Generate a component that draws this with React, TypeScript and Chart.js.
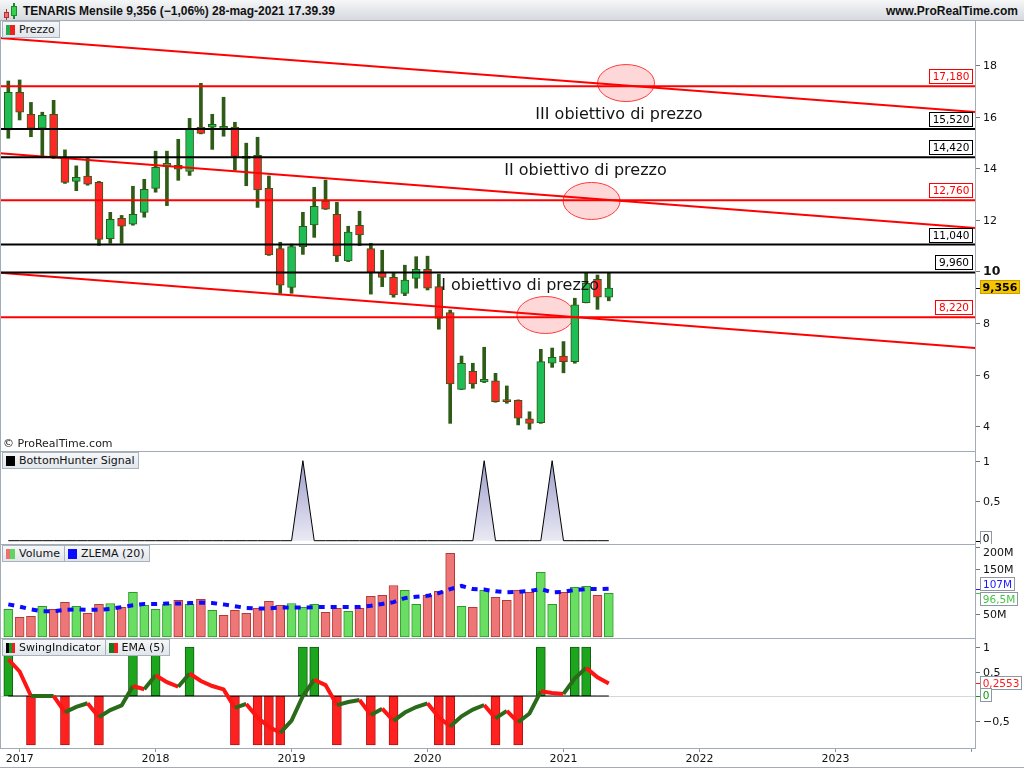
import React, { useEffect, useRef } from "react";
import { Chart, registerables } from "chart.js";

Chart.register(...registerables);

// ---------------- DATA ----------------
const monthLabels = ["dic-16","gen-17","feb-17","mar-17","apr-17","mag-17","giu-17","lug-17","ago-17","set-17","ott-17","nov-17","dic-17","gen-18","feb-18","mar-18","apr-18","mag-18","giu-18","lug-18","ago-18","set-18","ott-18","nov-18","dic-18","gen-19","feb-19","mar-19","apr-19","mag-19","giu-19","lug-19","ago-19","set-19","ott-19","nov-19","dic-19","gen-20","feb-20","mar-20","apr-20","mag-20","giu-20","lug-20","ago-20","set-20","ott-20","nov-20","dic-20","gen-21","feb-21","mar-21","apr-21","mag-21"];

const openP = [15.48,16.94,16.09,15.55,16.09,14.38,13.49,13.69,13.45,11.27,12.06,11.83,12.29,13.22,14.06,14.11,13.88,15.59,15.59,15.55,15.59,14.43,14.50,13.22,10.88,9.38,10.96,11.80,12.73,12.21,10.41,11.79,10.88,9.95,9.77,9.15,9.73,10.08,9.41,8.40,5.43,6.13,5.72,5.76,4.99,5.00,4.29,4.14,6.44,6.72,6.50,8.79,9.69,9.00];
const highP = [17.38,17.42,16.55,16.17,16.63,14.71,14.09,14.38,13.49,12.29,12.17,13.30,13.57,14.66,14.66,15.12,15.93,17.29,16.09,16.75,15.78,14.97,15.20,13.70,11.13,11.06,12.29,13.26,13.54,12.68,11.75,12.33,11.09,10.82,9.93,10.24,10.57,10.59,9.89,8.50,6.72,6.44,7.06,6.05,5.56,5.02,4.56,6.98,7.03,7.28,8.96,9.93,9.86,9.95];
const lowP = [15.16,15.87,15.22,14.41,14.38,13.41,13.13,13.34,11.01,11.09,11.09,11.79,12.10,13.07,12.55,13.53,13.72,15.33,14.73,15.24,13.92,13.32,12.48,10.62,9.15,9.15,10.66,11.32,12.40,10.38,10.38,11.00,9.12,9.41,9.00,9.06,9.35,9.28,7.76,4.11,5.42,5.47,5.69,4.93,4.89,4.05,3.88,4.11,6.28,6.07,6.44,8.78,8.53,8.86];
const closeP = [16.94,16.17,15.55,16.05,14.47,13.45,13.65,13.38,11.24,12.02,11.75,12.21,13.18,14.03,14.19,13.96,15.51,15.35,15.70,15.62,14.46,14.38,13.16,10.64,9.47,10.96,11.75,12.52,12.41,10.60,11.52,11.41,9.95,9.77,9.09,9.66,10.08,9.35,8.18,5.64,6.44,5.64,5.82,4.95,4.95,4.31,4.11,6.50,6.67,6.50,8.70,9.54,9.00,9.356];

// volume in millions and its colour (1 = up / green)
const volumeM = [61,43,45.5,67.8,61,76.7,67.8,52,72,74,65.5,99,70,61,72,81,72,83,59,47.8,59,52,63,79,70,74,65.5,72,54.4,63,56.7,63,90,92,114,103,72,92,101,185.5,67.8,65.5,103,87.8,81,103,99,143,72,99,110,112,92,96.5];
const volumeUp = [1,0,0,1,0,0,1,0,0,1,0,1,1,1,1,0,1,0,1,0,0,0,0,0,0,1,1,1,0,0,1,0,0,0,0,1,1,0,0,0,1,0,1,0,0,0,0,1,1,0,1,1,0,1];
const zlema20M = [72,67,61,57,57,60,61,60,60,62,66,70,73,73,74,74,75,76,75,72,68,64,63,63,65,65,65,66,66,66,66,66,69,73,77,86,89,91,97,106,113,106,105,101,99,100,102,106,99,100,104,106,106,107];

const bottomHunter = [0,0,0,0,0,0,0,0,0,0,0,0,0,0,0,0,0,0,0,0,0,0,0,0,0,0,1,0,0,0,0,0,0,0,0,0,0,0,0,0,0,0,1,0,0,0,0,0,1,0,0,0,0,0];

const swingSignal = [1,0,-1,0,0,-1,0,0,-1,0,0,1,0,1,0,0,1,0,0,0,-1,0,-1,-1,-1,0,1,1,0,-1,0,0,-1,0,-1,0,0,0,-1,-1,0,0,0,-1,0,-1,0,1,0,0,1,1,0,0];
const ema5 = [0.75,0.5,0,0,0,-0.333,-0.222,-0.148,-0.432,-0.288,-0.192,0.205,0.137,0.425,0.283,0.189,0.459,0.306,0.204,0.136,-0.243,-0.162,-0.441,-0.628,-0.752,-0.501,0,0.333,0.222,-0.185,-0.123,-0.082,-0.388,-0.259,-0.506,-0.337,-0.225,-0.15,-0.433,-0.622,-0.415,-0.277,-0.184,-0.456,-0.304,-0.536,-0.357,0.095,0.063,0.042,0.361,0.574,0.383,0.2553];

const yearTickIndex = [1, 13, 25, 37, 49, 61, 73, 85];
const yearTickLabels = ["2017", "2018", "2019", "2020", "2021", "2022", "2023", ""];

const priceTicks = [4, 6, 8, 10, 12, 14, 16, 18];
const bhTicks = [0, 0.5, 1];
const volumeTicks = [50, 150, 200];
const swingTicks = [-0.5, 0, 0.5, 1];

const levelValues = [17.18, 15.52, 14.42, 12.76, 11.04, 9.96, 8.22];
const levelIsRed = [1, 0, 0, 1, 0, 0, 1];

const trendX = [-1, 86];
const trendStartY = [19.06, 14.59, 9.96];
const trendEndY = [16.16, 11.66, 7.01];

const targetLabels = ["III obiettivo di prezzo", "II obiettivo di prezzo", "I obiettivo di prezzo"];
const targetX = [53.9, 50.94, 45.17];
const targetY = [16.06, 13.89, 9.434];
const circleX = [54.52, 51.48, 47.41];
const circleY = [17.3, 12.73, 8.31];

// ---------------- LAYOUT / STYLE ----------------
const FONT = '"DejaVu Sans", sans-serif';
const BORDER = "#a3acb5";
const X_MIN = -0.733;
const X_MAX = 85.32;
const AXIS_W = 49;

const fmtNum = (v: number) => String(v).replace(".", ",").replace("-", "\u2212");
const fmt3 = (v: number) => v.toFixed(3).replace(".", ",");

function drawFrameAndAxis(chart: any, cfg: any) {
  const { ctx, chartArea: ca } = chart;
  const ys = chart.scales.y;
  ctx.save();
  ctx.lineWidth = 1;
  ctx.strokeStyle = BORDER;
  ctx.beginPath();
  if (cfg.topBorder) {
    ctx.moveTo(0, ca.top + 0.5);
    ctx.lineTo(ca.right + 1, ca.top + 0.5);
  }
  ctx.moveTo(0.5, ca.top);
  ctx.lineTo(0.5, ca.bottom);
  ctx.moveTo(ca.right + 0.5, ca.top);
  ctx.lineTo(ca.right + 0.5, ca.bottom);
  ctx.stroke();

  ctx.textBaseline = "middle";
  ctx.textAlign = "left";
  cfg.ticks.forEach((v: number, k: number) => {
    const py = Math.round(ys.getPixelForValue(v)) + 0.5;
    ctx.strokeStyle = "#6f7982";
    ctx.beginPath();
    ctx.moveTo(ca.right + 1, py);
    ctx.lineTo(ca.right + 5, py);
    ctx.stroke();
    const lab = cfg.labels[k];
    if (lab) {
      const bold = cfg.boldTick === v;
      ctx.font = (bold ? "bold 12.5px " : "11px ") + FONT;
      ctx.fillStyle = "#111";
      const dy = cfg.labelDy ? cfg.labelDy[k] : 0;
      ctx.fillText(lab, ca.right + 8, py + dy + 0.5);
    }
  });

  (cfg.boxes || []).forEach((b: any) => {
    const py = ys.getPixelForValue(b.value);
    ctx.font = (b.bold ? "bold 11px " : "10.5px ") + FONT;
    const w = Math.ceil(ctx.measureText(b.text).width) + 5;
    const h = 14;
    const x = ca.right + 5;
    const cy = Math.round(py + b.dy);
    ctx.strokeStyle = b.tick;
    ctx.beginPath();
    ctx.moveTo(ca.right + 1, Math.round(py) + 0.5);
    ctx.lineTo(ca.right + 5, Math.round(py) + 0.5);
    ctx.stroke();
    ctx.fillStyle = b.bg;
    ctx.fillRect(x, cy - h / 2, w, h);
    ctx.strokeStyle = b.border;
    ctx.strokeRect(x + 0.5, cy - h / 2 + 0.5, w - 1, h - 1);
    ctx.fillStyle = b.color;
    ctx.textAlign = "center";
    ctx.fillText(b.text, x + w / 2, cy + 1);
    ctx.textAlign = "left";
  });
  ctx.restore();
}

function makePlugin(cfg: any) {
  return {
    id: "panel_" + cfg.name,
    beforeDatasetsDraw(chart: any) {
      if (cfg.under) cfg.under(chart);
    },
    afterDatasetsDraw(chart: any) {
      if (cfg.over) cfg.over(chart);
    },
    afterDraw(chart: any) {
      drawFrameAndAxis(chart, cfg);
    },
  };
}

const baseOptions = (yMin: number, yMax: number, xAxis?: any) => ({
  animation: false,
  responsive: false,
  maintainAspectRatio: false,
  devicePixelRatio: 1,
  events: [],
  layout: { padding: { left: 0, right: AXIS_W, top: 0, bottom: 0 } },
  plugins: { legend: { display: false }, tooltip: { enabled: false } },
  scales: {
    x: xAxis || { type: "linear", min: X_MIN, max: X_MAX, display: false, offset: false },
    y: { type: "linear", min: yMin, max: yMax, display: false },
  },
});

const idx = monthLabels.map((_, i) => i);

function buildPrice(canvas: HTMLCanvasElement) {
  const bodyData = idx.map((i) => ({ x: i, y: [openP[i], closeP[i]] }));
  const wickData = idx.map((i) => ({ x: i, y: [lowP[i], highP[i]] }));
  const bodyColors = idx.map((i) => (closeP[i] >= openP[i] ? "#1fbd55" : "#ff2727"));
  const levelSets = levelValues.map((v, k) => ({
    type: "line",
    data: [{ x: trendX[0], y: v }, { x: trendX[1], y: v }],
    borderColor: levelIsRed[k] ? "#ff0000" : "#000000",
    borderWidth: 2,
    pointRadius: 0,
    order: 0,
  }));
  const trendSets = trendStartY.map((v, k) => ({
    type: "line",
    data: [{ x: trendX[0], y: v }, { x: trendX[1], y: trendEndY[k] }],
    borderColor: "#ff0000",
    borderWidth: 2,
    pointRadius: 0,
    order: 0,
  }));
  const cfg = {
    name: "price",
    topBorder: false,
    ticks: priceTicks,
    labels: priceTicks.map((v) => fmtNum(v)),
    boldTick: 10,
    boxes: [
      { value: closeP[closeP.length - 1], text: fmtNum(closeP[closeP.length - 1]), dy: -1, bold: true, bg: "#f6c500", border: "#c9a000", color: "#000", tick: "#000" },
    ],
    under(chart: any) {
      const { ctx } = chart;
      const xs = chart.scales.x, ys = chart.scales.y;
      ctx.save();
      circleX.forEach((cx: number, k: number) => {
        ctx.beginPath();
        ctx.ellipse(xs.getPixelForValue(cx), ys.getPixelForValue(circleY[k]), 28.5, 18.5, 0, 0, Math.PI * 2);
        ctx.fillStyle = "rgba(250, 60, 60, 0.2)";
        ctx.fill();
        ctx.strokeStyle = "#ff3a3a";
        ctx.lineWidth = 1;
        ctx.stroke();
      });
      ctx.restore();
    },
    over(chart: any) {
      const { ctx, chartArea: ca } = chart;
      const xs = chart.scales.x, ys = chart.scales.y;
      ctx.save();
      ctx.font = "16px " + FONT;
      ctx.fillStyle = "#151515";
      ctx.textAlign = "center";
      ctx.textBaseline = "middle";
      targetLabels.forEach((t: string, k: number) => {
        ctx.fillText(t, xs.getPixelForValue(targetX[k]), ys.getPixelForValue(targetY[k]));
      });
      ctx.font = "10.5px " + FONT;
      levelValues.forEach((v: number, k: number) => {
        const col = levelIsRed[k] ? "#ff0000" : "#000000";
        const txt = fmt3(v);
        const w = Math.ceil(ctx.measureText(txt).width) + 7;
        const h = 15;
        const py = Math.round(ys.getPixelForValue(v));
        const x = Math.round(ca.right - 2 - w);
        const y = py - 2 - h;
        ctx.fillStyle = "#fff";
        ctx.fillRect(x, y, w, h);
        ctx.strokeStyle = col;
        ctx.lineWidth = 1;
        ctx.strokeRect(x + 0.5, y + 0.5, w - 1, h - 1);
        ctx.fillStyle = col;
        ctx.fillText(txt, x + w / 2, y + h / 2 + 1);
      });
      ctx.restore();
    },
  };
  return new Chart(canvas, {
    type: "bar",
    data: {
      datasets: [
        ...levelSets,
        ...trendSets,
        {
          type: "bar",
          data: bodyData,
          backgroundColor: bodyColors,
          borderColor: "#2e5c16",
          borderWidth: 1,
          borderSkipped: false,
          barThickness: 8,
          minBarLength: 2,
          grouped: false,
          order: 1,
        },
        {
          type: "bar",
          data: wickData,
          backgroundColor: "#2e5c16",
          borderWidth: 0,
          barThickness: 3,
          grouped: false,
          order: 2,
        },
      ] as any,
    },
    options: baseOptions(3.0388, 19.7054) as any,
    plugins: [makePlugin(cfg)],
  });
}

function buildBH(canvas: HTMLCanvasElement) {
  const cfg = {
    name: "bh",
    topBorder: true,
    ticks: bhTicks,
    labels: bhTicks.map((v) => (v === 0 ? "" : fmtNum(v))),
    boxes: [
      { value: bottomHunter[bottomHunter.length - 1], text: fmtNum(bottomHunter[bottomHunter.length - 1]), dy: -3, bg: "#fff", border: "#8e98a2", color: "#000", tick: "#000" },
    ],
  };
  return new Chart(canvas, {
    type: "line",
    data: {
      datasets: [
        {
          data: idx.map((i) => ({ x: i, y: bottomHunter[i] })),
          borderColor: "#000",
          borderWidth: 1,
          pointRadius: 0,
          tension: 0,
          fill: "origin",
          backgroundColor: (c: any) => {
            const ch = c.chart;
            const ca = ch.chartArea;
            if (!ca) return "rgba(180,180,220,0.6)";
            const g = ch.ctx.createLinearGradient(0, ca.top + 8, 0, ca.bottom);
            g.addColorStop(0, "#9c9ccd");
            g.addColorStop(1, "#ededf6");
            return g;
          },
        },
      ] as any,
    },
    options: baseOptions(-0.0413, 1.1213) as any,
    plugins: [makePlugin(cfg)],
  });
}

function buildVolume(canvas: HTMLCanvasElement) {
  const last = volumeM.length - 1;
  const cfg = {
    name: "vol",
    topBorder: true,
    ticks: volumeTicks,
    labels: volumeTicks.map((v) => v + "M"),
    labelDy: [0, 0, 5],
    boxes: [
      { value: zlema20M[last], text: fmtNum(zlema20M[last]) + "M", dy: -5, bg: "#fff", border: "#8e98a2", color: "#1a1aff", tick: "#1a1aff" },
      { value: volumeM[last], text: fmtNum(volumeM[last]) + "M", dy: 6, bg: "#fff", border: "#8e98a2", color: "#44c444", tick: "#44c444" },
    ],
  };
  return new Chart(canvas, {
    type: "bar",
    data: {
      datasets: [
        {
          type: "line",
          data: idx.map((i) => ({ x: i, y: zlema20M[i] })),
          borderColor: "#0a0aff",
          borderWidth: 4,
          borderDash: [6, 6],
          pointRadius: 0,
          tension: 0,
          order: 0,
        },
        {
          type: "bar",
          data: idx.map((i) => ({ x: i, y: volumeM[i] })),
          backgroundColor: idx.map((i) => (volumeUp[i] ? "#6ade62" : "#ef7676")),
          borderColor: idx.map((i) => (volumeUp[i] ? "#2f9a2a" : "#b43a3a")),
          borderWidth: 1,
          borderSkipped: false,
          barThickness: 9,
          grouped: false,
          order: 1,
        },
      ] as any,
    },
    options: baseOptions(-2.667, 206.22) as any,
    plugins: [makePlugin(cfg)],
  });
}

function buildSwing(canvas: HTMLCanvasElement) {
  const last = ema5.length - 1;
  const cfg = {
    name: "swing",
    topBorder: true,
    ticks: swingTicks,
    labels: swingTicks.map((v) => fmtNum(v)),
    boxes: [
      { value: ema5[last], text: fmtNum(ema5[last]), dy: 0, bg: "#fff", border: "#8e98a2", color: "#ff1a1a", tick: "#ff1a1a" },
      { value: swingSignal[last], text: fmtNum(swingSignal[last]), dy: -1, bg: "#fff", border: "#8e98a2", color: "#109a10", tick: "#109a10" },
    ],
    under(chart: any) {
      const { ctx, chartArea: ca } = chart;
      const ys = chart.scales.y;
      const py = Math.round(ys.getPixelForValue(0)) + 0.5;
      ctx.save();
      ctx.strokeStyle = "#d2d8de";
      ctx.lineWidth = 1;
      ctx.beginPath();
      ctx.moveTo(ca.left, py);
      ctx.lineTo(ca.right, py);
      ctx.stroke();
      ctx.restore();
    },
  };
  const bars = idx.filter((i) => swingSignal[i] !== 0);
  const xAxis = {
    type: "linear",
    min: X_MIN,
    max: X_MAX,
    offset: false,
    afterBuildTicks: (s: any) => {
      s.ticks = yearTickIndex.map((v) => ({ value: v }));
    },
    afterFit: (s: any) => {
      s.height = 20;
    },
    ticks: {
      autoSkip: false,
      maxRotation: 0,
      padding: 1,
      color: "#111",
      font: { family: "DejaVu Sans", size: 11 },
      callback: (_v: any, i: number) => yearTickLabels[i],
    },
    grid: { offset: false, drawOnChartArea: false, drawTicks: true, tickLength: 4, color: "#8a949e" },
    border: { display: true, color: BORDER },
  };
  return new Chart(canvas, {
    type: "bar",
    data: {
      datasets: [
        {
          type: "line",
          data: idx.map((i) => ({ x: i, y: ema5[i] })),
          borderWidth: 4,
          pointRadius: 0,
          tension: 0,
          borderColor: "#2a6b1a",
          segment: {
            borderColor: (c: any) => (c.p1.parsed.y >= c.p0.parsed.y ? "#2a6b1a" : "#ff1414"),
          },
          order: 0,
        },
        {
          type: "line",
          data: idx.map((i) => ({ x: i, y: 0 })),
          borderWidth: 1,
          borderColor: "#000",
          pointRadius: 0,
          order: 1,
        },
        {
          type: "bar",
          data: bars.map((i) => ({ x: i, y: swingSignal[i] })),
          backgroundColor: bars.map((i) => (swingSignal[i] > 0 ? "#1ea51e" : "#ff2020")),
          borderColor: bars.map((i) => (swingSignal[i] > 0 ? "#0f5f0f" : "#b01414")),
          borderWidth: 1,
          borderSkipped: false,
          barThickness: 9,
          grouped: false,
          order: 2,
        },
      ] as any,
    },
    options: baseOptions(-1.0612, 1.1837, xAxis) as any,
    plugins: [makePlugin(cfg)],
  });
}

function Legend({ left, top, items }: any) {
  return (
    <div style={{ position: "absolute", left, top, display: "flex", height: 17 }}>
      {items.map((it: any, k: number) => (
        <div
          key={k}
          style={{
            display: "flex",
            alignItems: "center",
            height: 17,
            boxSizing: "border-box",
            border: "1px solid #a9b3bd",
            marginLeft: k ? -1 : 0,
            padding: "0 4px 0 3px",
            background: "linear-gradient(#f6f7f9,#e1e6eb)",
            font: "11px " + FONT,
            color: "#111",
            whiteSpace: "nowrap",
          }}
        >
          <span style={{ display: "inline-block", width: 9, height: 10, marginRight: 4, background: it.icon, boxSizing: "border-box" }} />
          {it.label}
        </div>
      ))}
    </div>
  );
}

export default function App() {
  const priceRef = useRef<HTMLCanvasElement>(null);
  const bhRef = useRef<HTMLCanvasElement>(null);
  const volRef = useRef<HTMLCanvasElement>(null);
  const swingRef = useRef<HTMLCanvasElement>(null);

  useEffect(() => {
    const charts = [
      buildPrice(priceRef.current!),
      buildBH(bhRef.current!),
      buildVolume(volRef.current!),
      buildSwing(swingRef.current!),
    ];
    return () => charts.forEach((c) => c.destroy());
  }, []);

  const cv = (top: number, h: number) => ({ position: "absolute" as const, left: 0, top, width: 1024, height: h });

  return (
    <div style={{ position: "absolute", left: 0, top: 0, width: 1024, height: 768, background: "#fff", overflow: "hidden", fontFamily: FONT }}>
      {/* header */}
      <div style={{ position: "absolute", left: 0, top: 0, width: 1024, height: 21, boxSizing: "border-box", background: "linear-gradient(#f5f6f7,#d6dadf)", borderBottom: "1px solid " + BORDER }}>
        <div style={{ position: "absolute", left: 6, top: 9, width: 1, height: 11, background: "#b03030" }} />
        <div style={{ position: "absolute", left: 4, top: 12, width: 5, height: 6, background: "#f07070", border: "1px solid #b03030", boxSizing: "border-box" }} />
        <div style={{ position: "absolute", left: 13, top: 3, width: 2, height: 16, background: "#1e8a30" }} />
        <div style={{ position: "absolute", left: 11, top: 6, width: 6, height: 10, background: "#3ad04f", border: "1px solid #1e8a30", boxSizing: "border-box" }} />
        <span style={{ position: "absolute", left: 23, top: 4, font: 'bold 12px "Liberation Sans", Arial, sans-serif', color: "#111", whiteSpace: "nowrap" }}>
          TENARIS Mensile 9,356 (−1,06%) 28-mag-2021 17.39.39
        </span>
        <span style={{ position: "absolute", right: 6, top: 4, font: 'bold 12px "Liberation Sans", Arial, sans-serif', color: "#111", whiteSpace: "nowrap" }}>
          www.ProRealTime.com
        </span>
      </div>

      <canvas ref={priceRef} width={1024} height={430} style={cv(21, 430)} />
      <canvas ref={bhRef} width={1024} height={93} style={cv(451, 93)} />
      <canvas ref={volRef} width={1024} height={94} style={cv(544, 94)} />
      <canvas ref={swingRef} width={1024} height={130} style={cv(638, 130)} />

      <div style={{ position: "absolute", left: 0, top: 767, width: 1024, height: 1, background: BORDER }} />

      <Legend left={2} top={21} items={[{ label: "Prezzo", icon: "linear-gradient(90deg,#20b04a 50%,#ee2020 50%)" }]} />
      <div style={{ position: "absolute", left: 3, top: 437, font: "11px " + FONT, color: "#222" }}>© ProRealTime.com</div>
      <Legend left={2} top={452} items={[{ label: "BottomHunter Signal", icon: "#000" }]} />
      <Legend
        left={2}
        top={545}
        items={[
          { label: "Volume", icon: "linear-gradient(90deg,#ee7070 50%,#5fd65f 50%)" },
          { label: "ZLEMA (20)", icon: "#0a0aff" },
        ]}
      />
      <Legend
        left={2}
        top={639}
        items={[
          { label: "SwingIndicator", icon: "linear-gradient(90deg,#000 34%,#1a9a1a 34%,#1a9a1a 67%,#ee2020 67%)" },
          { label: "EMA (5)", icon: "linear-gradient(90deg,#1a7a1a 50%,#ee2020 50%)" },
        ]}
      />
    </div>
  );
}
